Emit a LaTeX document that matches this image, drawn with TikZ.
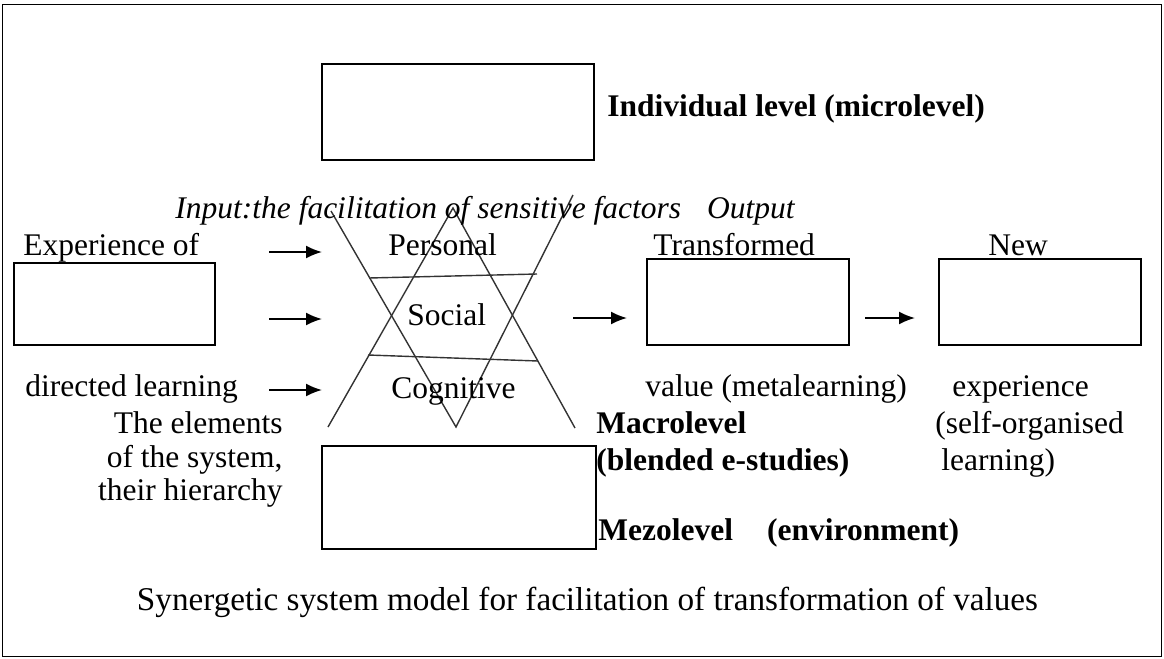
\documentclass[tikz,border=0pt]{standalone}
\usepackage{fontspec}
\setmainfont{Liberation Serif}
\usetikzlibrary{arrows.meta}

\tikzset{
  txt/.style={inner sep=0pt, anchor=base west, font=\fontsize{15.75pt}{17pt}\selectfont},
  txtr/.style={txt, anchor=base east},
  lvl/.style={txt, font=\fontsize{15.75pt}{17pt}\selectfont\bfseries},
  slant/.style={txt, font=\fontsize{15.75pt}{17pt}\selectfont\itshape},
  box/.style={draw, line width=0.85pt, inner sep=0pt, fill=white},
  flow/.style={line width=0.9pt, -{Latex[length=8pt,width=6.5pt]}},
  star/.style={line width=0.7pt, draw=black!80},
}

\begin{document}
\begin{tikzpicture}[x=0.5pt,y=-0.5pt]
\useasboundingbox (0,0) rectangle (1164,659);

% outer frame
\draw[line width=0.9pt] (2.5,4.5) rectangle (1161.5,656.5);

% boxes
\node[box, minimum width=136pt, minimum height=48pt]   (micro)  at (458,112)   {};
\node[box, minimum width=100.5pt, minimum height=41pt] (exper)  at (114.5,304) {};
\node[box, minimum width=101pt, minimum height=43pt]   (trans)  at (748,302)   {};
\node[box, minimum width=101pt, minimum height=43pt]   (newexp) at (1040,302)  {};
\node[box, minimum width=137pt, minimum height=51.5pt] (macro)  at (459,497.5) {};

% star of the three factors
\draw[star] (331,211) -- (456,427) -- (573,195);
\draw[star] (328,427) -- (453,208) -- (575,428);
\draw[star] (369,278) -- (537,274);
\draw[star] (368,355) -- (538,361);

% arrow ends
\coordinate (a1s) at (269,252); \coordinate (a1e) at (322,252);
\coordinate (a2s) at (269,319); \coordinate (a2e) at (322,319);
\coordinate (a3s) at (269,390); \coordinate (a3e) at (322,390);
\coordinate (a4s) at (573,318); \coordinate (a4e) at (627,318);
\coordinate (a5s) at (865,318); \coordinate (a5e) at (915,318);
\draw[flow] (a1s) -- (a1e);
\draw[flow] (a2s) -- (a2e);
\draw[flow] (a3s) -- (a3e);
\draw[flow] (a4s) -- (a4e);
\draw[flow] (a5s) -- (a5e);

% labels
\node[lvl] (microlbl) at (607,116) {Individual level (microlevel)};
\node[slant] (inputlbl) at (175,218) {Input:the facilitation of sensitive factors\hspace{13pt}Output};

\node[txt] (expA) at (23,255) {Experience of};
\node[txt] (expB) at (25,396) {directed learning};

\node[txt] (pers) at (388,255) {Personal};
\node[txt] (soc)  at (407,325) {Social};
\node[txt] (cogn) at (391,398) {Cognitive};

\node[txt] (transA) at (653,255) {Transformed};
\node[txt] (transB) at (645,396) {value (metalearning)};

\node[txt] (newA) at (988,255) {New};
\node[txt] (newB) at (952,396) {experience};
\node[txt] (newC) at (935,433) {(self-organised};
\node[txt] (newD) at (941,470) {learning)};

\node[txtr] (elA) at (283,433) {The elements};
\node[txtr] (elB) at (283,467) {of the system,};
\node[txtr] (elC) at (283,500) {their hierarchy};

\node[lvl] (macA) at (596,433) {Macrolevel};
\node[lvl] (macB) at (596,470) {(blended e-studies)};
\node[lvl] (mezo) at (598,540) {Mezolevel\hspace{17pt}(environment)};

\node[txt, anchor=base, font=\fontsize{16.6pt}{18pt}\selectfont] (caption) at (587.5,610)
  {Synergetic system model for facilitation of transformation of values};
\end{tikzpicture}
\end{document}
